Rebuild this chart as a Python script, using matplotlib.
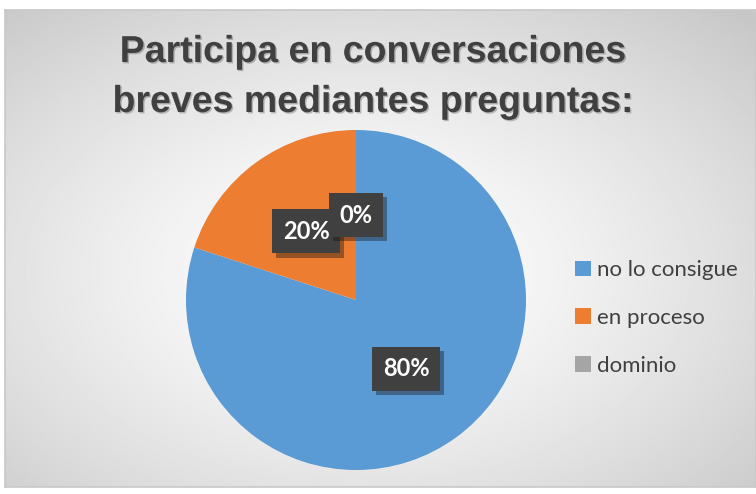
import numpy as np
import matplotlib.pyplot as plt
import matplotlib.patheffects as pe

title = "Participa en conversaciones\nbreves mediantes preguntas:"
categories = ["no lo consigue", "en proceso", "dominio"]
values = [80, 20, 0]
colors = ["#5b9bd5", "#ed7d31", "#a5a5a5"]

W, H = 756, 494
fig = plt.figure(figsize=(W / 100, H / 100), dpi=100)
fig.patch.set_facecolor("white")

# radial grey background inside the chart border
bx0, by0, bx1, by1 = 5, 10, 756, 487
bg = fig.add_axes([bx0 / W, 1 - by1 / H, (bx1 - bx0) / W, (by1 - by0) / H])
yy, xx = np.mgrid[0:1:300j, 0:1:400j]
r = np.sqrt(((xx - 0.47) / 0.75) ** 2 + ((yy - 0.55) / 0.75) ** 2)
shade = 1.0 - 0.22 * np.clip(r, 0, 1) ** 1.4
bg.imshow(shade, cmap="gray", vmin=0, vmax=1, aspect="auto",
          extent=[0, 1, 0, 1], interpolation="bilinear")
bg.set_xticks([])
bg.set_yticks([])
for s in bg.spines.values():
    s.set_color("#c8c8c8")
    s.set_linewidth(1.2)

fig.text(373 / W, 1 - 77 / H, title, ha="center", va="center",
         fontsize=27, fontweight="bold", color="#404040",
         family=["Liberation Sans", "DejaVu Sans"],
         linespacing=1.5,
         path_effects=[pe.withSimplePatchShadow(offset=(1, -1), alpha=0.25)])

cx, cy, rad = 356, 300, 170
ax = fig.add_axes([(cx - rad) / W, 1 - (cy + rad) / H, 2 * rad / W, 2 * rad / H])
wedges, texts, autotexts = ax.pie(values, colors=colors, startangle=90,
                                  counterclock=False, autopct="%.0f%%",
                                  pctdistance=0.5,
                                  wedgeprops=dict(linewidth=0))
for t in autotexts:
    t.set_color("white")
    t.set_fontsize(17)
    t.set_fontweight("bold")
    t.set_family(["Lato", "DejaVu Sans"])
    t.set_bbox(dict(boxstyle="square,pad=0.45", facecolor="#404040",
                    edgecolor="none",
                    path_effects=[pe.withSimplePatchShadow(offset=(3, -3), alpha=0.4)]))
ax.set_xlim(-1, 1)
ax.set_ylim(-1, 1)
ax.set_aspect("equal")

leg = fig.legend(wedges, categories, loc="center left",
                 bbox_to_anchor=(555 / W, 1 - 318 / H), frameon=False,
                 handlelength=0.7, handleheight=0.7, handletextpad=0.3,
                 labelspacing=1.25, prop={"family": ["Lato", "DejaVu Sans"], "size": 16})
for t in leg.get_texts():
    t.set_color("#404040")

fig.savefig("out.png", dpi=100)
